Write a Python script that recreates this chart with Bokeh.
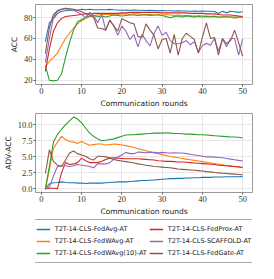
from bokeh.plotting import figure
from bokeh.models import Range1d, Legend, LegendItem, FixedTicker, NumeralTickFormatter
from bokeh.layouts import column
from bokeh.embed import file_html
from bokeh.resources import INLINE

rounds = list(range(1, 51))
series_names = ["T2T-14-CLS-FedAvg-AT", "T2T-14-CLS-FedWAvg-AT", "T2T-14-CLS-FedWAvg(10)-AT",
                "T2T-14-CLS-FedProx-AT", "T2T-14-CLS-SCAFFOLD-AT", "T2T-14-CLS-FedGate-AT"]
colors = ["#1f77b4", "#ff7f0e", "#2ca02c", "#d62728", "#9467bd", "#8c564b"]

x_ticks = [0, 10, 20, 30, 40, 50]
acc_ticks = [20, 40, 60, 80]
adv_ticks = [0.0, 2.5, 5.0, 7.5, 10.0]

# ACC (top panel)
acc_fedavg = [57, 75, 79, 84, 86, 86.5, 87, 87, 87, 88, 87.5, 88, 87.5, 87.5, 87.5, 87.5, 87.8, 87.5, 87.3, 87,
              87.3, 87, 87.2, 87, 87, 86.8, 87, 86.8, 86.5, 86.8, 86.5, 86.5, 86.3, 86.5, 86.3, 86.3, 86, 86.3, 86, 86.3,
              86, 86, 85.8, 84, 86, 84.5, 86, 85.5, 85, 85.5]
acc_fedwavg = [33, 38, 42, 46, 53, 60, 65, 70, 74, 77, 79, 81, 82, 82.5, 83, 83, 83, 83.5, 83, 83.5,
               83.5, 83, 83.5, 83.5, 83, 83, 83, 82.5, 83, 82.5, 83, 82.5, 82, 82.5, 82, 82, 82, 80, 82, 81.5,
               81.5, 81, 81.5, 80, 81, 81, 80.5, 79.5, 80, 80.5]
acc_fedwavg10 = [34, 20, 19.5, 20, 26, 42, 56, 68, 76, 78, 80, 81.5, 82, 81, 81.5, 80.5, 81.5, 82.5, 82, 81.5,
                 82, 82.5, 82.5, 82, 82.5, 82.5, 82, 82.5, 82.5, 82, 81, 79.8, 81, 81.5, 80.5, 81.5, 81, 81.5, 81, 80.5,
                 81, 80.5, 81, 80.5, 80.5, 80.5, 80.5, 80.5, 80.5, 80.5]
acc_fedprox = [28.5, 50, 67, 75, 79, 81, 81.5, 82, 82.5, 83, 83.5, 83.5, 84, 84, 84, 84, 84, 84, 84, 84.5,
               84.5, 85, 85, 85, 85, 85, 85, 85, 85, 84.5, 84.5, 84.5, 84.5, 84.5, 84.5, 84.5, 84, 84, 84, 84,
               83.5, 83.5, 83.5, 83, 82.5, 82.5, 82.5, 82, 81.5, 81]
acc_scaffold = [37, 60, 80, 87, 88, 88.8, 88, 87, 85, 83, 80, 85, 82, 75, 83, 68, 77.5, 72, 63, 72,
                67, 59, 64, 52, 64, 58, 53, 65, 72, 63, 66, 58, 55, 55, 56, 58, 54, 57, 47, 53,
                55.5, 53.5, 60, 48, 59.5, 52, 60, 60, 44, 59.5]
acc_fedgate = [45.5, 70, 83, 86, 88, 88.8, 88.5, 88, 87, 85.5, 84, 82.5, 80, 70, 69.5, 68, 77.6, 72, 67, 79,
               77, 75, 74, 62, 61, 74, 68, 63, 50, 59, 60, 46, 64, 44, 60, 65, 62, 59, 46, 61,
               75, 60, 61, 44, 60, 55, 58, 68, 56, 43]

# ADV-ACC (bottom panel)
adv_fedavg = [0.1, 0.8, 0.95, 1.0, 1.1, 1.0, 0.95, 0.95, 0.9, 0.9, 0.85, 0.9, 0.9, 0.9, 0.9, 0.95, 1.0, 1.05, 1.1, 1.1,
              1.1, 1.15, 1.2, 1.25, 1.3, 1.3, 1.35, 1.4, 1.45, 1.5, 1.55, 1.6, 1.6, 1.65, 1.65, 1.7, 1.7, 1.75, 1.75, 1.8,
              1.8, 1.8, 1.85, 1.85, 1.85, 1.9, 1.9, 1.9, 1.9, 1.95]
adv_fedwavg = [0, 3, 6.3, 7.3, 8.2, 7.7, 7.4, 7.3, 7.1, 7.4, 7.1, 6.8, 6.9, 7.0, 7.0, 6.85, 6.9, 7.0, 6.95, 6.85,
               6.75, 6.6, 6.45, 6.25, 6.1, 5.95, 5.8, 5.6, 5.5, 5.35, 5.2, 5.05, 4.95, 4.85, 4.75, 4.65, 4.55, 4.45, 4.35, 4.25,
               4.15, 4.05, 3.95, 3.85, 3.75, 3.65, 3.55, 3.45, 3.4, 3.35]
adv_fedwavg10 = [0, 3.5, 7.3, 8.5, 9.3, 10, 10.6, 11.2, 10.9, 10.3, 9.5, 8.7, 8.2, 7.8, 7.5, 7.6, 7.7, 7.8, 8.0, 8.2,
                 8.4, 8.45, 8.45, 8.5, 8.55, 8.6, 8.65, 8.7, 8.7, 8.7, 8.75, 8.7, 8.65, 8.65, 8.6, 8.55, 8.55, 8.5, 8.45, 8.45,
                 8.4, 8.35, 8.3, 8.25, 8.2, 8.15, 8.1, 8.1, 8.05, 7.95]
adv_fedprox = [0, 0.1, 0.1, 0.05, 2.5, 4.1, 3.8, 3.9, 4.1, 4.8, 4.4, 4.1, 4.1, 4.1, 4.3, 4.6, 4.8, 4.85, 4.8, 4.75,
               4.7, 4.7, 4.7, 4.7, 4.65, 4.6, 4.55, 4.5, 4.4, 4.35, 4.3, 4.3, 4.25, 4.2, 4.2, 4.15, 4.1, 4.05, 4.0, 3.95,
               3.9, 3.85, 3.8, 3.7, 3.65, 3.6, 3.55, 3.5, 3.45, 3.35]
adv_scaffold = [0, 0.3, 2.0, 3.5, 3.6, 3.6, 3.5, 3.6, 3.8, 3.7, 3.6, 3.5, 3.3, 3.9, 3.9, 3.9, 4.1, 4.6, 5.0, 5.3,
                5.7, 5.5, 5.5, 5.75, 5.7, 5.65, 5.7, 5.7, 5.65, 5.7, 5.65, 5.6, 5.65, 5.6, 5.6, 5.5, 5.4, 5.3, 5.2, 5.1,
                5.0, 5.0, 4.95, 4.9, 4.85, 4.75, 4.65, 4.55, 4.45, 4.4]
adv_fedgate = [2.4, 6.1, 4.3, 3.7, 3.5, 4.5, 5.6, 5.9, 5.5, 5.3, 5.1, 4.7, 4.5, 5.1, 5.1, 5.0, 4.8, 4.6, 4.45, 4.35,
               4.25, 4.15, 4.05, 3.9, 3.8, 3.7, 3.6, 3.5, 3.45, 3.4, 3.35, 3.3, 3.2, 3.1, 3.05, 3.0, 2.95, 2.9, 2.85, 2.8,
               2.7, 2.65, 2.55, 2.5, 2.45, 2.4, 2.35, 2.3, 2.25, 2.2]

acc_series = [acc_fedavg, acc_fedwavg, acc_fedwavg10, acc_fedprox, acc_scaffold, acc_fedgate]
adv_series = [adv_fedavg, adv_fedwavg, adv_fedwavg10, adv_fedprox, adv_scaffold, adv_fedgate]

W = 258


def make_fig(height, yr, yticks, ylabel, fmt=None, top=4):
    p = figure(width=W, height=height, x_range=Range1d(-1.45, 52.45), y_range=Range1d(*yr),
               output_backend="svg", toolbar_location=None,
               min_border_left=29, min_border_right=6, min_border_top=top, min_border_bottom=0)
    p.outline_line_color = "#9a9a9a"
    p.outline_line_width = 1
    p.background_fill_color = "white"
    p.xaxis.ticker = FixedTicker(ticks=x_ticks)
    p.yaxis.ticker = FixedTicker(ticks=yticks)
    if fmt:
        p.yaxis.formatter = NumeralTickFormatter(format=fmt)
    for ax in (p.xaxis, p.yaxis):
        ax.axis_line_color = None
        ax.major_tick_line_color = "#555555"
        ax.major_tick_out = 2
        ax.major_tick_in = 0
        ax.minor_tick_line_color = None
        ax.major_label_text_font = "Liberation Serif"
        ax.major_label_text_font_size = "8.5px"
        ax.major_label_text_color = "#333333"
        ax.major_label_standoff = 1
        ax.axis_label_text_font = "DejaVu Sans"
        ax.axis_label_text_font_size = "7.5px"
        ax.axis_label_text_font_style = "normal"
        ax.axis_label_text_color = "#222222"
        ax.axis_label_standoff = 2
    p.xaxis.axis_label = "Communication rounds"
    p.yaxis.axis_label = ylabel
    p.grid.grid_line_color = "#e6e6e6"
    p.grid.grid_line_width = 1
    return p


p1 = make_fig(110, (16, 92.5), acc_ticks, "ACC")
for ys, c in zip(acc_series, colors):
    p1.line(rounds, ys, line_color=c, line_width=1.1)

p2 = make_fig(108, (-0.56, 11.76), adv_ticks, "ADV-ACC", fmt="0.0", top=3)
for ys, c in zip(adv_series, colors):
    p2.line(rounds, ys, line_color=c, line_width=1.1)

# legend panel: same series drawn outside its visible range, only the legend shows
p3 = figure(width=W, height=45, output_backend="svg", toolbar_location=None,
            x_range=Range1d(1000, 1001), y_range=Range1d(1000, 1001),
            x_axis_location=None, y_axis_location=None,
            min_border_left=0, min_border_right=0, min_border_top=0, min_border_bottom=0)
p3.outline_line_color = None
p3.grid.visible = False
items = []
for name, ys, c in zip(series_names, acc_series, colors):
    r = p3.line(rounds, ys, line_color=c, line_width=1.3)
    items.append(LegendItem(label=name, renderers=[r]))
legend = Legend(items=items, ncols=2, location="center",
                label_text_font="DejaVu Sans", label_text_font_size="6.5px",
                label_text_color="#222222", label_height=10, glyph_height=10, glyph_width=14,
                label_standoff=5, spacing=2, padding=4, margin=2,
                border_line_color="#aaaaaa", border_line_width=1, border_line_alpha=1,
                background_fill_color="white", background_fill_alpha=1)
p3.add_layout(legend, "center")

layout = column(p1, p2, p3, spacing=0)
open("out.html", "w").write(file_html(layout, INLINE))
